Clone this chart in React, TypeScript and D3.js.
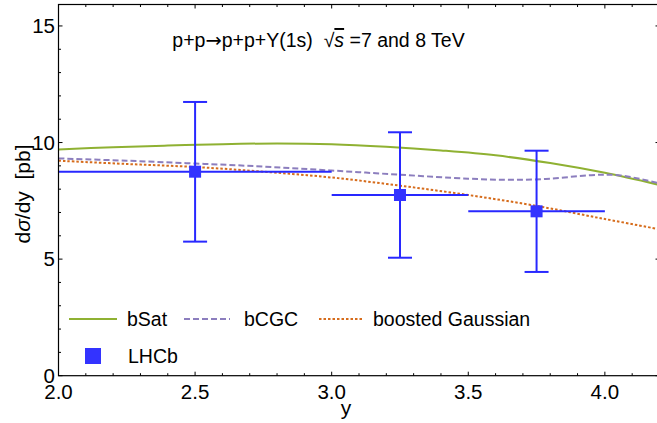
import React from 'react';
import * as d3 from 'd3';

// ---- data ----
const xMajorTicks = [2.0, 2.5, 3.0, 3.5, 4.0];
const xTickLabels = ['2.0', '2.5', '3.0', '3.5', '4.0'];
const yMajorTicks = [0, 5, 10, 15];
const yTickLabels = ['0', '5', '10', '15'];
const xMinorTicks = [2.1, 2.2, 2.3, 2.4, 2.6, 2.7, 2.8, 2.9, 3.1, 3.2, 3.3, 3.4, 3.6, 3.7, 3.8, 3.9, 4.1];
const yMinorTicks = [1, 2, 3, 4, 6, 7, 8, 9, 11, 12, 13, 14];

const bSatX = [2.0, 2.2, 2.4, 2.6, 2.8, 3.0, 3.2, 3.4, 3.6, 3.8, 4.0, 4.2];
const bSatY = [9.7, 9.8, 9.87, 9.93, 9.96, 9.93, 9.82, 9.66, 9.45, 9.12, 8.7, 8.18];

const bCGCX = [2.0, 2.25, 2.5, 2.75, 3.0, 3.25, 3.5, 3.65, 3.8, 3.95, 4.05, 4.2];
const bCGCY = [9.32, 9.22, 9.1, 8.97, 8.8, 8.62, 8.45, 8.4, 8.45, 8.6, 8.6, 8.25];

const bgX = [2.0, 2.25, 2.5, 2.75, 3.0, 3.25, 3.5, 3.75, 4.0, 4.2];
const bgY = [9.22, 9.08, 8.95, 8.75, 8.5, 8.15, 7.75, 7.28, 6.72, 6.28];

const lhcbX = [2.5, 3.25, 3.75];
const lhcbXLow = [2.0, 3.0, 3.5];
const lhcbXHigh = [3.0, 3.5, 4.0];
const lhcbY = [8.75, 7.75, 7.05];
const lhcbYLow = [5.75, 5.06, 4.45];
const lhcbYHigh = [11.74, 10.44, 9.65];

const legendLabels = ['bSat', 'bCGC', 'boosted Gaussian', 'LHCb'];

// ---- styles ----
const GREEN = 'rgb(143,177,50)';
const PURPLE = 'rgb(140,126,190)';
const ORANGE = 'rgb(214,108,28)';
const BLUE = 'rgb(40,40,255)';
const FONT = '"Liberation Sans", Arial, Helvetica, sans-serif';

const W = 657;
const H = 423;
const left = 58.5;
const right = 659.5;
const top = 4.5;
const bottom = 375.7;

export default function App() {
  const x = d3.scaleLinear().domain([2.0, 4.2]).range([left, right]);
  const y = d3.scaleLinear().domain([0, 15.92]).range([bottom, top]);

  const mkLine = (xs: number[], ys: number[]) =>
    d3
      .line<number>()
      .x((_, i) => x(xs[i]))
      .y((d) => y(d))
      .curve(d3.curveCatmullRom.alpha(0.5))(ys) as string;

  const capHalf = 12;
  const sq = 12;

  return (
    <div style={{ position: 'absolute', left: 0, top: 0 }}>
      <svg width={W} height={H} style={{ display: 'block', background: '#fff' }}>
        <defs>
          <clipPath id="plotclip">
            <rect x={left} y={top} width={right - left} height={bottom - top} />
          </clipPath>
        </defs>
        <rect x={0} y={0} width={W} height={H} fill="#fff" />

        {/* curves */}
        <g clipPath="url(#plotclip)" fill="none" strokeLinecap="butt">
          <path d={mkLine(bSatX, bSatY)} stroke={GREEN} strokeWidth={2} />
          <path d={mkLine(bCGCX, bCGCY)} stroke={PURPLE} strokeWidth={2} strokeDasharray="6,3" />
          <path d={mkLine(bgX, bgY)} stroke={ORANGE} strokeWidth={2} strokeDasharray="2.5,2" />
        </g>

        {/* LHCb data */}
        <g stroke={BLUE} strokeWidth={2} fill="none">
          {lhcbX.map((v, i) => (
            <g key={i}>
              <line x1={x(lhcbXLow[i])} x2={x(lhcbXHigh[i])} y1={y(lhcbY[i])} y2={y(lhcbY[i])} />
              <line x1={x(v)} x2={x(v)} y1={y(lhcbYLow[i])} y2={y(lhcbYHigh[i])} />
              <line x1={x(v) - capHalf} x2={x(v) + capHalf} y1={y(lhcbYLow[i])} y2={y(lhcbYLow[i])} />
              <line x1={x(v) - capHalf} x2={x(v) + capHalf} y1={y(lhcbYHigh[i])} y2={y(lhcbYHigh[i])} />
            </g>
          ))}
        </g>
        <g fill="rgb(51,51,255)">
          {lhcbX.map((v, i) => (
            <rect key={i} x={x(v) - sq / 2} y={y(lhcbY[i]) - sq / 2} width={sq} height={sq} />
          ))}
        </g>

        {/* frame */}
        <rect x={left} y={top} width={right - left} height={bottom - top} fill="none" stroke="#000" strokeWidth={1.2} />

        {/* ticks */}
        <g stroke="#000" strokeWidth={1}>
          {xMajorTicks.map((t) => (
            <g key={'xM' + t}>
              <line x1={x(t)} x2={x(t)} y1={bottom} y2={bottom - 4} />
              <line x1={x(t)} x2={x(t)} y1={top} y2={top + 4} />
            </g>
          ))}
          {xMinorTicks.map((t) => (
            <g key={'xm' + t}>
              <line x1={x(t)} x2={x(t)} y1={bottom} y2={bottom - 2.5} />
              <line x1={x(t)} x2={x(t)} y1={top} y2={top + 2.5} />
            </g>
          ))}
          {yMajorTicks.map((t) => (
            <g key={'yM' + t}>
              <line x1={left} x2={left + 4} y1={y(t)} y2={y(t)} />
              <line x1={right} x2={right - 4} y1={y(t)} y2={y(t)} />
            </g>
          ))}
          {yMinorTicks.map((t) => (
            <g key={'ym' + t}>
              <line x1={left} x2={left + 2.5} y1={y(t)} y2={y(t)} />
              <line x1={right} x2={right - 2.5} y1={y(t)} y2={y(t)} />
            </g>
          ))}
        </g>

        {/* tick labels */}
        <g fontFamily={FONT} fontSize={20.5} fill="#000">
          {xMajorTicks.map((t, i) => (
            <text key={'xl' + t} x={x(t)} y={399} textAnchor="middle">
              {xTickLabels[i]}
            </text>
          ))}
          {yMajorTicks.map((t, i) => (
            <text key={'yl' + t} x={55} y={y(t)} dy="0.36em" textAnchor="end">
              {yTickLabels[i]}
            </text>
          ))}
        </g>

        {/* axis labels */}
        <text x={346} y={415} fontFamily={FONT} fontSize={21} textAnchor="middle">
          y
        </text>
        <text
          transform={`translate(30,${194}) rotate(-90)`}
          fontFamily={FONT}
          fontSize={21}
          textAnchor="middle"
          style={{ whiteSpace: 'pre' }}
        >
          d<tspan fontStyle="italic">σ</tspan>/dy  [pb]
        </text>

        {/* title */}
        <text
          x={318.5}
          y={47}
          textAnchor="middle"
          fontFamily={FONT}
          fontSize={19.5}
          fill="#000"
          style={{ whiteSpace: 'pre' }}
        >
          p+p<tspan fontFamily='"DejaVu Sans", sans-serif'>→</tspan>p+p+Y(1s)  √
          <tspan fontStyle="italic" textDecoration="overline" style={{ textDecoration: 'overline' }}>s</tspan> =7 and 8 TeV
        </text>

        {/* legend */}
        <g fontFamily={FONT} fontSize={19.5} fill="#000">
          <line x1={69} x2={117} y1={319} y2={319} stroke={GREEN} strokeWidth={2} />
          <text x={127} y={319} dy="0.36em">{legendLabels[0]}</text>
          <line x1={184} x2={230} y1={319} y2={319} stroke={PURPLE} strokeWidth={2} strokeDasharray="6,3" />
          <text x={244} y={319} dy="0.36em">{legendLabels[1]}</text>
          <line x1={319} x2={362} y1={319} y2={319} stroke={ORANGE} strokeWidth={2} strokeDasharray="2.5,2" />
          <text x={373} y={319} dy="0.36em">{legendLabels[2]}</text>
          <rect x={85} y={348} width={16} height={16} fill="rgb(51,51,255)" />
          <text x={128} y={356} dy="0.36em">{legendLabels[3]}</text>
        </g>
      </svg>
    </div>
  );
}
